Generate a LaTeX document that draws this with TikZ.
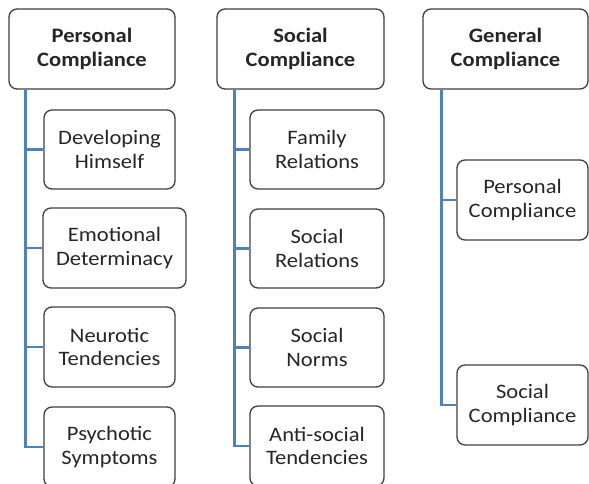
\documentclass[tikz,border=0pt]{standalone}
\usepackage{fontspec}
\setmainfont[FakeStretch=1.1]{Carlito}
\begin{document}
\begin{tikzpicture}[x=1pt,y=-1pt,
  box/.style={draw=black!75, line width=1.3pt, rounded corners=8pt, fill=white,
    align=center, inner sep=0pt, text=black!85,
    font=\fontsize{20.5}{23.5}\selectfont},
  headbox/.style={box, font=\fontsize{20.5}{23.5}\selectfont\bfseries},
  conn/.style={draw={rgb,255:red,79;green,129;blue,189}, line width=2.6pt}]
\useasboundingbox (0,0) rectangle (589,484);
\clip (0,0) rectangle (589,484);
\fill[white] (0,0) rectangle (589,484);
% column 1
\node[headbox, minimum width=166pt, minimum height=80pt] (pc) at (92,49) {Personal\\Compliance};
\node[box, minimum width=131pt, minimum height=79pt] (dh) at (109.5,149.5) {Developing\\Himself};
\node[box, minimum width=143pt, minimum height=80pt] (ed) at (114.5,248) {Emotional\\Determinacy};
\node[box, minimum width=131pt, minimum height=80pt] (nt) at (109.5,347) {Neurotic\\Tendencies};
\node[box, minimum width=131pt, minimum height=80pt] (ps) at (109.5,447) {Psychotic\\Symptoms};
% column 2
\node[headbox, minimum width=167pt, minimum height=80pt] (sc) at (300.5,49) {Social\\Compliance};
\node[box, minimum width=134pt, minimum height=79pt] (fr) at (317,149.5) {Family\\Relations};
\node[box, minimum width=134pt, minimum height=79pt] (sr) at (317,248.5) {Social\\Relations};
\node[box, minimum width=134pt, minimum height=79pt] (sn) at (317,347.5) {Social\\Norms};
\node[box, minimum width=134pt, minimum height=80pt] (at) at (317,446) {Anti-social\\Tendencies};
% column 3
\node[headbox, minimum width=165pt, minimum height=80pt] (gc) at (505.5,49) {General\\Compliance};
\node[box, minimum width=131pt, minimum height=80pt] (gp) at (522.5,200) {Personal\\Compliance};
\node[box, minimum width=131pt, minimum height=80pt] (gs) at (522.5,405) {Social\\Compliance};
% connectors
\foreach \c in {dh,ed,nt,ps} \draw[conn] ([xshift=17pt]pc.south west) |- (\c.west);
\foreach \c in {fr,sr,sn,at} \draw[conn] ([xshift=18pt]sc.south west) |- (\c.west);
\foreach \c in {gp,gs} \draw[conn] ([xshift=19pt]gc.south west) |- (\c.west);
\end{tikzpicture}
\end{document}
